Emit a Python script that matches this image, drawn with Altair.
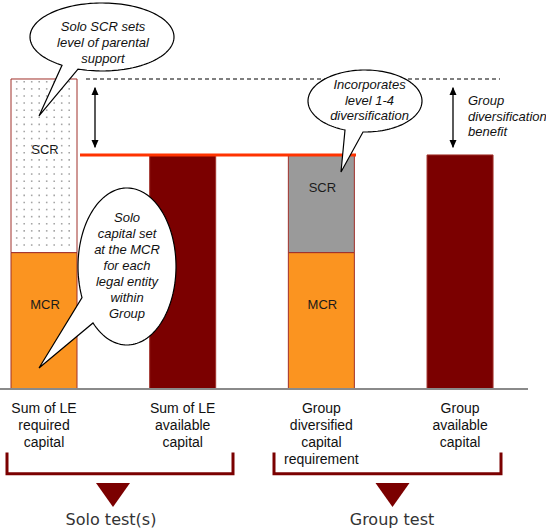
import altair as alt
import numpy as np
import pandas as pd

# ---------------- data ----------------
categories = ["Sum of LE required capital", "Sum of LE available capital",
              "Group diversified capital requirement", "Group available capital"]
category_labels = ["Sum of LE\nrequired\ncapital", "Sum of LE\navailable\ncapital",
                   "Group\ndiversified\ncapital\nrequirement", "Group\navailable\ncapital"]

segment_category = [categories[0], categories[0], categories[1],
                    categories[2], categories[2], categories[3]]
segment_kind = ["MCR", "Solo SCR", "Available capital",
                "MCR", "Diversified SCR", "Available capital"]
segment_value = [44, 56, 75.5, 44, 31.5, 75.5]
segment_order = [0, 1, 0, 0, 1, 0]
segment_label = ["MCR", "SCR", "", "MCR", "SCR", ""]

solo_requirement = 100      # level of the solo SCR (dashed line)
group_requirement = 75.5    # group SCR = group available capital (red line)

callout_texts = ["Solo SCR sets\nlevel of parental\nsupport",
                 "Solo\ncapital set\nat the MCR\nfor each\nlegal entity\nwithin\nGroup",
                 "Incorporates\nlevel 1-4\ndiversification"]
benefit_text = "Group\ndiversification\nbenefit"
test_names = ["Solo test(s)", "Group test"]

# ---------------- styles / layout ----------------
ORANGE, DARKRED, GREY = "#FB9420", "#7B0000", "#9A9A9A"
FONT = "Liberation Sans"

band = alt.Scale(type="band", domain=categories, paddingInner=0.524,
                 paddingOuter=0.2306, align=0.172, round=False)
xq = alt.Scale(domain=[0, 546], nice=False, zero=False)
ys = alt.Scale(domain=[-46.13, 125.48], nice=False, zero=False)


def XQ(f):
    return alt.X(f, scale=xq, axis=None)


def YQ(f):
    return alt.Y(f, scale=ys, axis=None)


seg_df = pd.DataFrame({"category": segment_category, "kind": segment_kind,
                       "value": segment_value, "order": segment_order,
                       "label": segment_label})

bars = alt.Chart(seg_df).mark_bar(stroke="#A0302A", strokeWidth=1).encode(
    x=alt.X("category:N", scale=band, axis=None),
    y=alt.Y("value:Q", stack="zero", scale=ys, axis=None),
    color=alt.Color("kind:N", legend=None, scale=alt.Scale(
        domain=["MCR", "Solo SCR", "Diversified SCR", "Available capital"],
        range=[ORANGE, "#FFFFFF", GREY, DARKRED])),
    order=alt.Order("order:Q"),
)

# dotted texture of the solo SCR block
dx_grid, dy_grid = np.meshgrid(np.arange(16.7, 76, 7.5), np.arange(99.1, 44.6, -2.29))
dots = alt.Chart(pd.DataFrame({"x": dx_grid.ravel(), "y": dy_grid.ravel()})).mark_square(
    size=2.5, color="#a5a5a5", opacity=1).encode(x=XQ("x:Q"), y=YQ("y:Q"))

seg_text = alt.Chart(seg_df).transform_stack(
    stack="value", as_=["v0", "v1"], groupby=["category"],
    sort=[alt.SortField("order")]
).transform_filter("datum.label != ''").transform_calculate(
    mid="(datum.v0 + datum.v1) / 2"
).mark_text(dy=-16, dx=1, fontSize=13, font=FONT, color="#1a1a1a").encode(
    x=alt.X("category:N", scale=band, axis=None),
    y=alt.Y("mid:Q", scale=ys, axis=None),
    text="label:N",
)

cat_df = pd.DataFrame({"category": categories, "label": category_labels, "y": [-7.6] * 4})
cat_text = alt.Chart(cat_df).mark_text(
    fontSize=14, font=FONT, color="#111111", lineBreak="\n", lineHeight=17.2,
    baseline="alphabetic").encode(
    x=alt.X("category:N", scale=band, axis=None),
    y=YQ("y:Q"), text="label:N")


def rule(x1, x2, y, **kw):
    return alt.Chart(pd.DataFrame({"x": [x1], "x2": [x2], "y": [y]})).mark_rule(**kw).encode(
        x=XQ("x:Q"), x2="x2:Q", y=YQ("y:Q"))


def vrule(x, y1, y2, **kw):
    return alt.Chart(pd.DataFrame({"x": [x], "y": [y1], "y2": [y2]})).mark_rule(**kw).encode(
        x=XQ("x:Q"), y=YQ("y:Q"), y2="y2:Q")


baseline = rule(0, 528, 0, color="#8a8a8a", strokeWidth=2)
red_line = rule(80, 356, group_requirement, color="#FF3300", strokeWidth=3)
dashed = rule(86, 500, solo_requirement, color="#000000", strokeWidth=1.2, strokeDash=[4, 3])

arrows = []
UP = "M0,-4L3.5,4L-3.5,4Z"
DOWN = "M0,4L3.5,-4L-3.5,-4Z"
for ax in [95, 453]:
    arrows.append(vrule(ax, 97.2, 78.0, color="black", strokeWidth=1.3))
    arrows.append(alt.Chart(pd.DataFrame({"x": [ax, ax], "y": [96.13, 79.03],
                                          "s": ["up", "down"]})).mark_point(
        filled=True, size=4, opacity=1, color="black").encode(
        x=XQ("x:Q"), y=YQ("y:Q"),
        shape=alt.Shape("s:N", legend=None,
                        scale=alt.Scale(domain=["up", "down"], range=[UP, DOWN]))))

benefit = alt.Chart(pd.DataFrame({"x": [468], "y": [91.45], "t": [benefit_text]})).mark_text(
    align="left", baseline="alphabetic", fontSize=13, font=FONT, fontStyle="italic",
    color="#111111", lineBreak="\n", lineHeight=15.5).encode(
    x=XQ("x:Q"), y=YQ("y:Q"), text="t:N")


def callout_path(rx, ry, base_dx, tip):
    t1, t2 = sorted(np.arccos(np.clip(np.array(base_dx, float) / rx, -1, 1)))
    ts = np.linspace(t2, t1 + 2 * np.pi, 140)
    pts = [(rx * np.cos(t), ry * np.sin(t)) for t in ts] + [tip]
    return "M" + "L".join(f"{px:.2f},{py:.2f}" for px, py in pts) + "Z"


callouts = [
    # centre x, centre y, rx, ry, tail base offsets, tail tip offset, text x, text y, line height
    (102, 113.55, 72, 34, [-40, -24], (-63, 79), 103, 115.58, 16),
    (127, 39.52, 49, 78.5, [-45, -34], (-88, 101.5), 127, 53.77, 15.9),
    (365, 92.9, 57, 31, [-20, -2], (-24, 71), 369.5, 96.77, 15.5),
]
callout_layers = []
for (cx, cy, rx, ry, bdx, tip, tx, ty, lh), txt in zip(callouts, callout_texts):
    callout_layers.append(alt.Chart(pd.DataFrame({"x": [cx], "y": [cy]})).mark_point(
        shape=callout_path(rx, ry, bdx, tip), size=4, filled=True, fill="white",
        stroke="black", strokeWidth=1.2, opacity=1).encode(x=XQ("x:Q"), y=YQ("y:Q")))
    callout_layers.append(alt.Chart(pd.DataFrame({"x": [tx], "y": [ty], "t": [txt]})).mark_text(
        baseline="alphabetic", fontSize=13, font=FONT, fontStyle="italic", color="#111111",
        lineBreak="\n", lineHeight=lh).encode(x=XQ("x:Q"), y=YQ("y:Q"), text="t:N"))

bracket_df = pd.DataFrame({
    "g": [0, 0, 0, 0, 1, 1, 1, 1],
    "o": [0, 1, 2, 3, 0, 1, 2, 3],
    "x": [7, 7, 233, 233, 274, 274, 501, 501],
    "y": [-21.0, -27.3, -27.3, -21.0, -21.0, -27.3, -27.3, -21.0],
})
brackets = alt.Chart(bracket_df).mark_line(color=DARKRED, strokeWidth=3, strokeJoin="miter",
                                           strokeCap="square").encode(
    x=XQ("x:Q"), y=YQ("y:Q"), order="o:Q", detail="g:N")

triangles = alt.Chart(pd.DataFrame({"x": [113, 392.5], "y": [-34.19, -34.19]})).mark_point(
    shape="M-17,-12L17,-12L0,12Z", size=4, filled=True, color=DARKRED, opacity=1).encode(
    x=XQ("x:Q"), y=YQ("y:Q"))

tests = alt.Chart(pd.DataFrame({"x": [111, 392], "y": [-43.9, -43.9], "t": test_names})).mark_text(
    baseline="alphabetic", fontSize=16, font="DejaVu Sans", color="#333333").encode(
    x=XQ("x:Q"), y=YQ("y:Q"), text="t:N")

chart = alt.layer(
    bars, dots, seg_text, baseline, red_line, dashed, *arrows, benefit,
    *callout_layers, cat_text, brackets, triangles, tests
).resolve_scale(x="independent").properties(
    width=546, height=532, padding=0, autosize=alt.AutoSizeParams(type="none"),
    background="white"
).configure_view(stroke=None)

chart.save("out.html", embed_options={"renderer": "svg", "actions": False})
